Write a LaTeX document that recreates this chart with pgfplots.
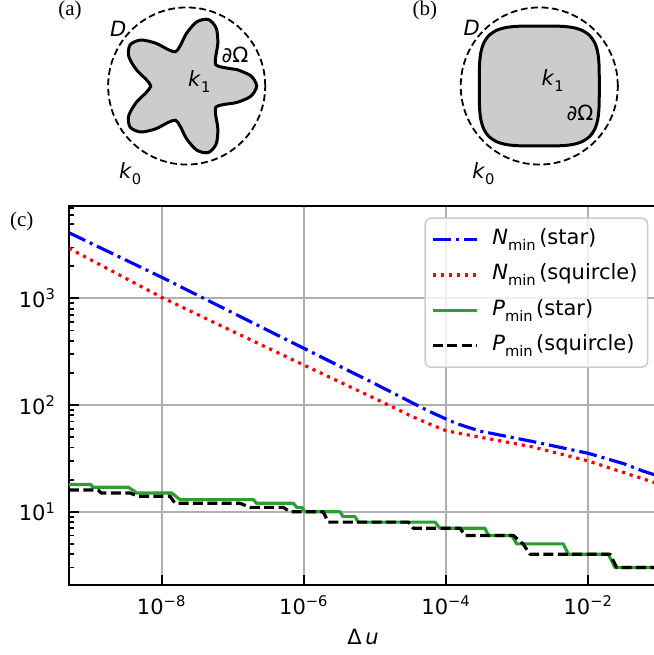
\documentclass[border=0pt]{standalone}
\usepackage{fontspec}
\setmainfont{DejaVu Sans}
\newfontfamily\serif{Liberation Serif}
\usepackage{pgfplots}
\pgfplotsset{compat=1.18}

\definecolor{gridc}{HTML}{B0B0B0}
\definecolor{mplgreen}{HTML}{2CA02C}
\definecolor{shapefill}{HTML}{CCCCCC}
\definecolor{legedge}{HTML}{CCCCCC}

\newcommand{\fs}{\fontsize{10.5}{12.6}\selectfont}
\newcommand{\ex}[1]{\textsuperscript{#1}}
\newcommand{\sub}[1]{\raisebox{-0.28em}{\fontsize{7.35}{8}\selectfont #1}}

\pgfplotsset{
  inset/.style={hide axis, scale only axis, width=86.46pt, height=86.46pt,
    xmin=-1.1, xmax=1.1, ymin=-1.1, ymax=1.1, clip=false, anchor=center},
}
\tikzset{lbl/.style={font=\fs, inner sep=0pt, anchor=center}}

\begin{document}
\begin{tikzpicture}
\useasboundingbox (-34.5pt,-35pt) rectangle (292.5pt,292.5pt);

% (c) main panel
\begin{axis}[
  at={(0,0)}, anchor=south west,
  scale only axis, width=293.5pt, height=189.5pt,
  clip mode=individual,
  xmode=log, ymode=log,
  xmin=4.97e-10, xmax=0.0895, ymin=2.06, ymax=7330,
  xtick={1e-8,1e-6,1e-4,1e-2},
  xticklabels={10\ex{−8},10\ex{−6},10\ex{−4},10\ex{−2}},
  minor xtick={},
  ytick={10,100,1000},
  yticklabels={10\ex{1},10\ex{2},10\ex{3}},
  minor ytick={3,4,5,6,7,8,9,20,30,40,50,60,70,80,90,200,300,400,500,600,700,800,900,2000,3000,4000,5000,6000,7000},
  tick align=inside, xtick pos=bottom, ytick pos=left,
  major tick length=4.8pt, minor tick length=2.7pt,
  every tick/.style={black, line width=0.9pt},
  axis line style={line width=0.9pt},
  grid=major, major grid style={gridc, line width=0.84pt},
  ticklabel style={font=\fs},
  yticklabel style={xshift=-3pt},
  xticklabel style={yshift=-2pt},
  xlabel={Δ\,\textit{u}},
  xlabel style={font=\fs, at={(axis description cs:0.501,0)}, anchor=center, yshift=-26pt},
  legend style={at={(0.987,0.970)}, anchor=north east, draw=legedge, line width=0.8pt,
    rounded corners=3pt, fill=white, fill opacity=0.8, text opacity=1, font=\fs,
    inner xsep=3pt, inner ysep=3.7pt, row sep=3.7pt,
    nodes={inner sep=2pt, text height=7.5pt, text depth=2.5pt},
    /tikz/every odd column/.append style={column sep=5pt}},
  legend cell align=left,
  legend image code/.code={\draw[#1] (0pt,0pt) -- (22pt,0pt);},
  every axis plot/.append style={line join=round},
]
\addplot[blue, line width=1.58pt, dash pattern=on 9pt off 2.5pt on 1.5pt off 2.5pt] coordinates {
  (4.97e-10,4120) (1e-8,1574) (1e-7,731) (1e-6,340) (1e-5,158) (3.16e-5,107)
  (6.31e-5,85) (1e-4,74) (1.41e-4,67) (3e-4,57) (1.68e-3,45.4) (1e-2,35.3)
  (3.16e-2,28.2) (5.93e-2,24.0) (8.95e-2,22.0)
};
\addlegendentry{\textit{N}\sub{min}\,(star)}
\addplot[red, line width=1.58pt, dash pattern=on 1.6pt off 2.4pt] coordinates {
  (4.97e-10,2944) (1e-8,1021) (1e-7,490) (1e-6,237) (1e-5,115) (3.16e-5,79.4)
  (6.31e-5,65) (1e-4,57.4) (3e-4,50) (1.68e-3,40.4) (1e-2,29.9) (5.93e-2,20.3)
  (8.95e-2,18.6)
};
\addlegendentry{\textit{N}\sub{min}\,(squircle)}
\addplot[mplgreen, line width=1.58pt] coordinates {
  (4.97e-10,18) (1.01e-9,18) (1.07e-9,17) (3.39e-9,17) (4.45e-9,15) (1.38e-8,15)
  (1.81e-8,13) (1.94e-7,13) (2.17e-7,12) (7.10e-7,12) (7.93e-7,11) (9.31e-7,11)
  (1.035e-6,10) (3.22e-6,10) (3.55e-6,9) (5.24e-6,9) (5.82e-6,8) (6.98e-5,8)
  (8.20e-5,7) (3.52e-4,7) (3.93e-4,6) (8.38e-4,6) (9.84e-4,5) (4.45e-3,5)
  (5.24e-3,4) (1.91e-2,4) (2.37e-2,3) (8.95e-2,3)
};
\addlegendentry{\textit{P}\sub{min}\,(star)}
\addplot[black, line width=1.58pt, dash pattern=on 5pt off 2.2pt] coordinates {
  (4.97e-10,16) (1.28e-9,16) (1.40e-9,15) (3.58e-9,15) (4.63e-9,14) (1.31e-8,14)
  (1.54e-8,12) (1.26e-7,12) (1.75e-7,11) (5.13e-7,11) (6.37e-7,10) (1.87e-6,10)
  (2.20e-6,8) (2.94e-5,8) (3.46e-5,7) (1.57e-4,7) (1.85e-4,6) (8.81e-4,6)
  (1.21e-3,5) (1.51e-3,4) (2.02e-2,4) (2.51e-2,3) (8.95e-2,3)
};
\addlegendentry{\textit{P}\sub{min}\,(squircle)}
\node[font={\serif\fs}, anchor=center] at (axis description cs:-0.0806,0.9586) {(c)};
\end{axis}

% (a) star
\begin{axis}[inset, at={(58.85pt,249.5pt)}]
\addplot[black, line width=0.9pt, dash pattern=on 3.4pt off 1.8pt, smooth, data cs=polar] coordinates {
  (0,1)(10,1)(20,1)(30,1)(40,1)(50,1)(60,1)(70,1)(80,1)(90,1)(100,1)(110,1)
  (120,1)(130,1)(140,1)(150,1)(160,1)(170,1)(180,1)(190,1)(200,1)(210,1)(220,1)
  (230,1)(240,1)(250,1)(260,1)(270,1)(280,1)(290,1)(300,1)(310,1)(320,1)(330,1)
  (340,1)(350,1)(360,1)
};
\addplot[black, line width=1.5pt, fill=shapefill, smooth, data cs=polar] coordinates {
  (18,0.674)(27,0.521)(36,0.458)(45,0.521)(54,0.674)(63,0.827)(72,0.890)(81,0.827)
  (90,0.674)(99,0.521)(108,0.458)(117,0.521)(126,0.674)(135,0.827)(144,0.890)(153,0.827)
  (162,0.674)(171,0.521)(180,0.458)(189,0.521)(198,0.674)(207,0.827)(216,0.890)(225,0.827)
  (234,0.674)(243,0.521)(252,0.458)(261,0.521)(270,0.674)(279,0.827)(288,0.890)(297,0.827)
  (306,0.674)(315,0.521)(324,0.458)(333,0.521)(342,0.674)(351,0.827)(360,0.890)(369,0.827)
  (378,0.674)
};
\node[lbl] at (axis cs:-0.87,0.73) {\textit{D}};
\node[lbl] at (axis cs:0.615,0.394) {∂Ω};
\node[lbl] at (axis cs:0.16,0.06) {\textit{k}\sub{1}};
\node[lbl] at (axis cs:-0.72,-1.11) {\textit{k}\sub{0}};
\node[lbl, font={\serif\fs}] at (axis cs:-1.485,0.967) {(a)};
\end{axis}

% (b) squircle
\begin{axis}[inset, at={(235.15pt,249.5pt)}]
\addplot[black, line width=0.9pt, dash pattern=on 3.4pt off 1.8pt, smooth, data cs=polar] coordinates {
  (0,1)(10,1)(20,1)(30,1)(40,1)(50,1)(60,1)(70,1)(80,1)(90,1)(100,1)(110,1)
  (120,1)(130,1)(140,1)(150,1)(160,1)(170,1)(180,1)(190,1)(200,1)(210,1)(220,1)
  (230,1)(240,1)(250,1)(260,1)(270,1)(280,1)(290,1)(300,1)(310,1)(320,1)(330,1)
  (340,1)(350,1)(360,1)
};
\addplot[black, line width=1.5pt, fill=shapefill, smooth, data cs=polar] coordinates {
  (0,0.763)(7.5,0.7695)(15,0.7889)(22.5,0.8199)(30,0.8581)(37.5,0.8928)(45,0.9074)
  (52.5,0.8928)(60,0.8581)(67.5,0.8199)(75,0.7889)(82.5,0.7695)
  (90,0.763)(97.5,0.7695)(105,0.7889)(112.5,0.8199)(120,0.8581)(127.5,0.8928)(135,0.9074)
  (142.5,0.8928)(150,0.8581)(157.5,0.8199)(165,0.7889)(172.5,0.7695)
  (180,0.763)(187.5,0.7695)(195,0.7889)(202.5,0.8199)(210,0.8581)(217.5,0.8928)(225,0.9074)
  (232.5,0.8928)(240,0.8581)(247.5,0.8199)(255,0.7889)(262.5,0.7695)
  (270,0.763)(277.5,0.7695)(285,0.7889)(292.5,0.8199)(300,0.8581)(307.5,0.8928)(315,0.9074)
  (322.5,0.8928)(330,0.8581)(337.5,0.8199)(345,0.7889)(352.5,0.7695)
  (360,0.763)
};
\node[lbl] at (axis cs:-0.86,0.734) {\textit{D}};
\node[lbl] at (axis cs:0.17,0.07) {\textit{k}\sub{1}};
\node[lbl] at (axis cs:0.518,-0.347) {∂Ω};
\node[lbl] at (axis cs:-0.71,-1.11) {\textit{k}\sub{0}};
\node[lbl, font={\serif\fs}] at (axis cs:-1.455,0.967) {(b)};
\end{axis}
\end{tikzpicture}
\end{document}
